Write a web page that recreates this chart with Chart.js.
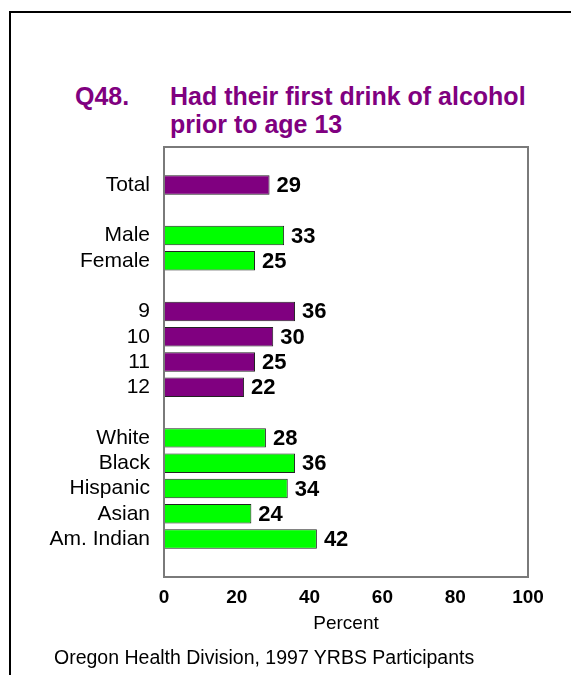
<!DOCTYPE html>
<html>
<head>
<meta charset="utf-8">
<script src="https://cdn.jsdelivr.net/npm/chart.js@4.4.1/dist/chart.umd.min.js"></script>
<style>
  html, body { margin: 0; padding: 0; background: #fff; }
  body { width: 571px; height: 675px; position: relative; overflow: hidden; font-family: "Liberation Sans", Arial, sans-serif; }
  #frame { position: absolute; left: 9px; top: 11px; width: 562px; height: 664px; border-top: 2px solid #000; border-left: 2px solid #000; box-sizing: border-box; }
  .ttl { position: absolute; color: #800080; font-weight: bold; font-size: 25px; line-height: 28px; white-space: nowrap; }
  #footer { position: absolute; left: 54px; top: 646px; font-size: 19.5px; line-height: 22px; color: #000; white-space: nowrap; }
  canvas { position: absolute; left: 0; top: 0; }
</style>
</head>
<body>
<div id="frame"></div>
<div class="ttl" style="left:75px; top:82px;">Q48.</div>
<div class="ttl" style="left:170px; top:82px;">Had their first drink of alcohol<br>prior to age 13</div>
<canvas id="c" width="571" height="675"></canvas>
<div id="footer">Oregon Health Division, 1997 YRBS Participants</div>
<script>
const categories = ['', 'Total', '', 'Male', 'Female', '', '9', '10', '11', '12', '', 'White', 'Black', 'Hispanic', 'Asian', 'Am. Indian', ''];
const values = [null, 29, null, 33, 25, null, 36, 30, 25, 22, null, 28, 36, 34, 24, 42, null];
const groupColor = ['', 'purple', '', 'green', 'green', '', 'purple', 'purple', 'purple', 'purple', '', 'green', 'green', 'green', 'green', 'green', ''];
const xTicks = [0, 20, 40, 60, 80, 100];

const palette = { purple: '#800080', green: '#00FF00' };
const FONT = '"Liberation Sans", Arial, sans-serif';

const valueLabels = {
  id: 'valueLabels',
  afterDatasetsDraw(chart) {
    const ctx = chart.ctx;
    const meta = chart.getDatasetMeta(0);
    ctx.save();
    ctx.font = 'bold 22px ' + FONT;
    ctx.fillStyle = '#000';
    ctx.textAlign = 'left';
    ctx.textBaseline = 'middle';
    meta.data.forEach((bar, i) => {
      const v = values[i];
      if (v === null) return;
      ctx.fillText(String(v), bar.x + 7, bar.y + 1);
    });
    ctx.restore();
  }
};

const plotBorder = {
  id: 'plotBorder',
  afterDraw(chart) {
    const a = chart.chartArea;
    const ctx = chart.ctx;
    ctx.save();
    ctx.strokeStyle = '#7a7a7a';
    ctx.lineWidth = 2;
    ctx.strokeRect(a.left, a.top, a.right - a.left, a.bottom - a.top);
    ctx.restore();
  }
};

new Chart(document.getElementById('c'), {
  type: 'bar',
  data: {
    labels: categories,
    datasets: [{
      data: values,
      backgroundColor: groupColor.map(g => palette[g] || 'transparent'),
      borderColor: '#222',
      borderWidth: 1,
      borderSkipped: false,
      barPercentage: 0.77,
      categoryPercentage: 1.0
    }]
  },
  options: {
    indexAxis: 'y',
    responsive: false,
    animation: false,
    devicePixelRatio: 1,
    layout: { padding: { top: 147, right: 43, bottom: 40, left: 0 } },
    plugins: { legend: { display: false }, tooltip: { enabled: false }, title: { display: false } },
    scales: {
      x: {
        type: 'linear',
        min: 0, max: 100,
        afterBuildTicks(scale) { scale.ticks = xTicks.map(v => ({ value: v })); },
        grid: { display: false, drawTicks: false },
        border: { display: false },
        ticks: { color: '#000', font: { family: FONT, size: 19, weight: 'bold' }, padding: 9 },
        title: { display: true, text: 'Percent', color: '#000', font: { family: FONT, size: 19 }, padding: { top: 0, bottom: 0 } },
        afterFit(scale) { scale.height = 58; }
      },
      y: {
        grid: { display: false, drawTicks: false },
        border: { display: false },
        ticks: { color: '#000', font: { family: FONT, size: 21 }, padding: 14, autoSkip: false },
        afterFit(scale) { scale.width = 164; }
      }
    }
  },
  plugins: [valueLabels, plotBorder]
});
</script>
</body>
</html>
